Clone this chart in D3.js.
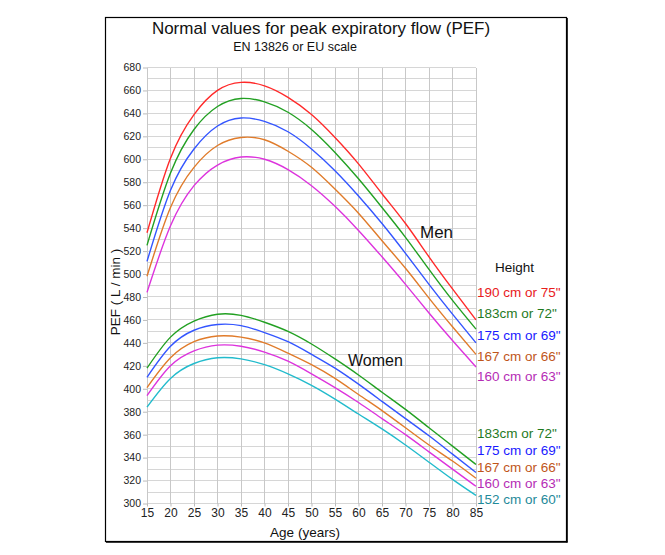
<!DOCTYPE html>
<html><head><meta charset="utf-8">
<script src="https://cdn.jsdelivr.net/npm/d3@7"></script>
<style>body{margin:0;background:#fff;} text{font-family:"Liberation Sans",Arial,sans-serif;}</style>
</head><body>
<svg id="c" width="665" height="555"></svg>
<script>
const ages = [15,20,25,30,35,40,45,50,55,60,65,70,75,80,85];
const men190 = [536,601,639,660,667,664,654,639,619,596,570,544,515,487,460];
const men183 = [525,588,626,646,653,650,641,626,606,583,558,532,504,477,452];
const men175 = [511,573,609,629,636,633,624,609,590,568,544,518,491,465,440];
const men167 = [498,558,593,612,619,617,607,593,574,553,529,505,479,454,430];
const men160 = [484,542,577,595,602,600,591,577,559,538,515,491,466,442,419];
const women183 = [418,445,459,465,464,458,450,439,426,412,397,382,366,350,334];
const women175 = [410,437,451,456,455,449,441,430,418,404,389,374,359,343,327];
const women167 = [401,427,441,446,445,440,431,421,409,395,381,366,351,337,322];
const women160 = [394,420,433,438,437,432,424,413,401,388,374,360,345,330,315];
const women152 = [384,409,422,427,426,421,413,403,391,378,365,351,336,321,307];
const menLabels = ['190 cm or 75"','183cm or 72"','175 cm or 69"','167 cm or 66"','160 cm or 63"'];
const womenLabels = ['183cm or 72"','175 cm or 69"','167 cm or 66"','160 cm or 63"','152 cm or 60"'];
const xTicks = [15,20,25,30,35,40,45,50,55,60,65,70,75,80,85];
const yTicks = [300,320,340,360,380,400,420,440,460,480,500,520,540,560,580,600,620,640,660,680];

const menSeries = [men190,men183,men175,men167,men160];
const womenSeries = [women183,women175,women167,women160,women152];
const menLine = ['#ff2a2a','#22a022','#3355ff','#e07b2a','#dd33dd'];
const menText = ['#e8201c','#1f7a1f','#1a1aff','#c0561a','#b52db5'];
const womenLine = ['#22a022','#3355ff','#e07b2a','#dd33dd','#22bbcc'];
const womenText = ['#1f7a1f','#1a1aff','#c0561a','#b52db5','#1f8a9a'];

const svg = d3.select('#c');
const x = d3.scaleLinear().domain([15,85]).range([147,476]);
const y = d3.scaleLinear().domain([300,680]).range([503.5,67.5]);

// frame
svg.append('rect').attr('x',105.5).attr('y',17.5).attr('width',461).attr('height',524).attr('fill','none').attr('stroke','#000').attr('stroke-width',1.2);
svg.append('line').attr('x1',567).attr('x2',567).attr('y1',18).attr('y2',542.5).attr('stroke','#000').attr('stroke-width',1.6);
svg.append('line').attr('x1',106).attr('x2',567.5).attr('y1',542).attr('y2',542).attr('stroke','#000').attr('stroke-width',1.6);

// grid
const g = svg.append('g');
const hVals = d3.range(300,681,10);
g.selectAll('.h').data(hVals).enter().append('line')
  .attr('x1',x(15)).attr('x2',x(85)).attr('y1',d=>y(d)).attr('y2',d=>y(d))
  .attr('stroke','#d6d6d6').attr('stroke-width',1).attr('shape-rendering','crispEdges');
g.selectAll('.v').data(xTicks).enter().append('line')
  .attr('x1',d=>x(d)).attr('x2',d=>x(d)).attr('y1',y(680)).attr('y2',y(300))
  .attr('stroke','#c8c8c8').attr('stroke-width',1).attr('shape-rendering','crispEdges');

// axes
const ya = svg.append('g').attr('transform',`translate(${x(15)},0)`)
  .call(d3.axisLeft(y).tickValues(yTicks).tickSize(4).tickPadding(2));
ya.select('.domain').remove();
ya.selectAll('line').attr('stroke','#bbb');
ya.selectAll('text').attr('font-size','10.5px').attr('fill','#222').attr('font-family','"Liberation Sans",Arial,sans-serif');
const xa = svg.append('g').attr('transform',`translate(0,${y(300)})`)
  .call(d3.axisBottom(x).tickValues(xTicks).tickSize(3).tickPadding(2));
xa.select('.domain').remove();
xa.selectAll('line').attr('stroke','#bbb');
xa.selectAll('text').attr('font-size','12px').attr('fill','#222').attr('font-family','"Liberation Sans",Arial,sans-serif');

// lines
const line = d3.line().x((d,i)=>x(ages[i])).y(d=>y(d)).curve(d3.curveNatural);
menSeries.forEach((s,i)=>{
  svg.append('path').attr('d',line(s)).attr('fill','none').attr('stroke',menLine[i]).attr('stroke-width',1.4);
});
womenSeries.forEach((s,i)=>{
  svg.append('path').attr('d',line(s)).attr('fill','none').attr('stroke',womenLine[i]).attr('stroke-width',1.4);
});

// texts
svg.append('text').attr('x',321).attr('y',34).attr('text-anchor','middle').attr('font-size','17px').attr('fill','#111').text('Normal values for peak expiratory flow (PEF)');
svg.append('text').attr('x',295).attr('y',51).attr('text-anchor','middle').attr('font-size','12.5px').attr('fill','#111').text('EN 13826 or EU scale');
svg.append('text').attr('x',305).attr('y',537).attr('text-anchor','middle').attr('font-size','13.5px').attr('fill','#111').text('Age (years)');
svg.append('text').attr('transform','translate(120,292) rotate(-90)').attr('text-anchor','middle').attr('font-size','13.5px').attr('fill','#111').text('PEF ( L / min )');
svg.append('text').attr('x',420).attr('y',238).attr('font-size','17px').attr('fill','#111').text('Men');
svg.append('text').attr('x',348).attr('y',366).attr('font-size','16px').attr('fill','#111').text('Women');
svg.append('text').attr('x',495).attr('y',272).attr('font-size','13.5px').attr('fill','#111').text('Height');

const menY = [297,317.5,340,361,381];
const womenY = [438,455,471.5,488,504];
svg.selectAll('.ml').data(menLabels).enter().append('text')
  .attr('x',477).attr('y',(d,i)=>menY[i]).attr('font-size','13.5px').attr('fill',(d,i)=>menText[i]).text(d=>d);
svg.selectAll('.wl').data(womenLabels).enter().append('text')
  .attr('x',477).attr('y',(d,i)=>womenY[i]).attr('font-size','13.5px').attr('fill',(d,i)=>womenText[i]).text(d=>d);
</script>
</body></html>
